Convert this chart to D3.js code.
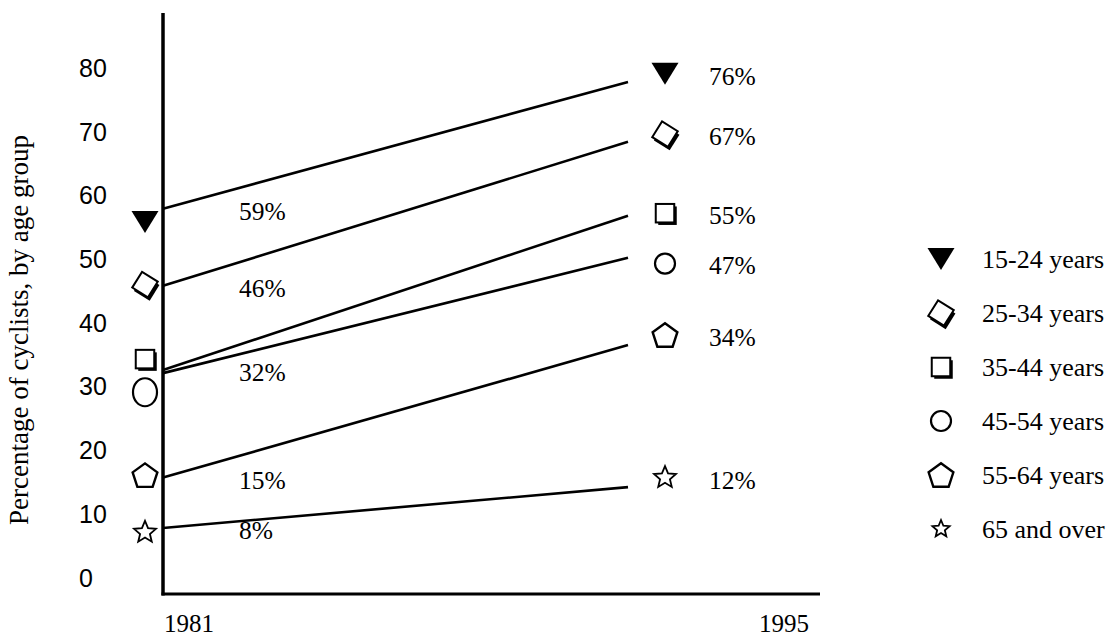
<!DOCTYPE html>
<html>
<head>
<meta charset="utf-8">
<script src="https://cdn.jsdelivr.net/npm/d3@7"></script>
<style>
  body { margin: 0; background: #fff; }
  text { fill: #000; }
</style>
</head>
<body>
<div id="chart"></div>
<script>
/**
 * DATA (in % units of the y axis)
 * */
const ageGroups = ["15-24 years", "25-34 years", "35-44 years", "45-54 years", "55-64 years", "65 and over"];
const shapes = ["triangle", "diamond", "square", "circle", "pentagon", "star"];
const startLabels = ["59%", "46%", "32%", "", "15%", "8%"];
const endLabels = ["76%", "67%", "55%", "47%", "34%", "12%"];
const lineStart = [57.8, 45.7, 32.5, 32.0, 15.6, 7.7];
const lineEnd = [77.7, 68.3, 56.7, 50.1, 36.4, 14.1];
const startMarker = [55.7, 45.9, 34.2, 29.0, 16.0, 7.0];
const endMarker = [79.0, 69.5, 57.1, 49.2, 38.0, 15.6];
const yTicks = [0, 10, 20, 30, 40, 50, 60, 70, 80];
const years = ["1981", "1995"];

/**
 * CONSTANTS
 * */
const width = 1110,
  height = 636,
  axisX = 163,
  axisY = 594,
  lineEndX = 628,
  serif = "'Liberation Serif', 'Times New Roman', serif",
  sans = "'Liberation Sans', Arial, sans-serif";

const svg = d3.select("#chart")
  .append("svg")
  .attr("width", width)
  .attr("height", height);

svg.append("rect").attr("width", width).attr("height", height).attr("fill", "#fff");

// SCALES
const yScale = d3.scaleLinear().domain([0, 80]).range([577, 67.3]);
const xScale = d3.scaleLinear().domain([0, 1]).range([axisX, lineEndX]); // 0 = 1981, 1 = 1995
const yearScale = d3.scalePoint().domain(years).range([188.5, 783.5]);

// AXES
svg.append("line")
  .attr("x1", axisX).attr("x2", axisX)
  .attr("y1", 13).attr("y2", axisY + 1.5)
  .attr("stroke", "#000").attr("stroke-width", 3.5);

svg.append("line")
  .attr("x1", axisX - 1.5).attr("x2", 820)
  .attr("y1", axisY).attr("y2", axisY)
  .attr("stroke", "#000").attr("stroke-width", 3);

const yAxis = d3.axisLeft(yScale).tickValues(yTicks).tickSize(0);
svg.append("g")
  .attr("transform", `translate(${axisX},0)`)
  .call(yAxis)
  .call(g => g.select(".domain").remove())
  .selectAll("text")
  .attr("x", 79 - axisX)
  .attr("dy", "0.36em")
  .attr("text-anchor", "start")
  .style("font-family", sans)
  .style("font-size", "25px");

const xAxis = d3.axisBottom(yearScale).tickSize(0);
svg.append("g")
  .attr("transform", `translate(0,${axisY})`)
  .call(xAxis)
  .call(g => g.select(".domain").remove())
  .selectAll("text")
  .attr("y", 38)
  .attr("dy", 0)
  .style("font-family", serif)
  .style("font-size", "25px");

svg.append("text")
  .attr("transform", `translate(20,${330}) rotate(-90)`)
  .attr("text-anchor", "middle")
  .attr("dy", "0.3em")
  .style("font-family", serif)
  .style("font-size", "27px")
  .text("Percentage of cyclists, by age group");

// LINES
const rows = ageGroups.map((g, i) => ({
  group: g, shape: shapes[i],
  start: lineStart[i], end: lineEnd[i],
  startMark: startMarker[i], endMark: endMarker[i],
  startLabel: startLabels[i], endLabel: endLabels[i]
}));

svg.selectAll(".trend")
  .data(rows)
  .join("line")
  .attr("class", "trend")
  .attr("x1", xScale(0)).attr("y1", d => yScale(d.start))
  .attr("x2", xScale(1)).attr("y2", d => yScale(d.end))
  .attr("stroke", "#000")
  .attr("stroke-width", 2.6);

// MARKERS
function star(R, r) {
  const pts = [];
  for (let k = 0; k < 10; k++) {
    const a = -Math.PI / 2 + k * Math.PI / 5, rr = k % 2 ? r : R;
    pts.push([rr * Math.cos(a), rr * Math.sin(a)]);
  }
  return "M" + pts.map(p => p.join(",")).join("L") + "Z";
}
function pentagon(R) {
  const pts = d3.range(5).map(k => {
    const a = -Math.PI / 2 + k * 2 * Math.PI / 5;
    return [R * Math.cos(a), R * Math.sin(a) + R * 0.1];
  });
  return "M" + pts.map(p => p.join(",")).join("L") + "Z";
}

function drawMarker(g, shape, set) {
  if (shape === "triangle") {
    g.append("path").attr("d", "M-13.5,-11L13.5,-11L0,11Z").attr("fill", "#000");
  } else if (shape === "diamond") {
    const s = 18.5;
    g.append("rect").attr("x", -s / 2 + 1.6).attr("y", -s / 2 + 1.6).attr("width", s).attr("height", s)
      .attr("transform", "translate(1.2,1.2) rotate(32)").attr("fill", "#000");
    g.append("rect").attr("x", -s / 2).attr("y", -s / 2).attr("width", s).attr("height", s)
      .attr("transform", "rotate(32)").attr("fill", "#fff").attr("stroke", "#000").attr("stroke-width", 2);
  } else if (shape === "square") {
    const s = 18.5;
    g.append("rect").attr("x", -s / 2 + 2.5).attr("y", -s / 2 + 2.5).attr("width", s).attr("height", s).attr("fill", "#000");
    g.append("rect").attr("x", -s / 2).attr("y", -s / 2).attr("width", s).attr("height", s)
      .attr("fill", "#fff").attr("stroke", "#000").attr("stroke-width", 2);
  } else if (shape === "circle") {
    g.append("ellipse")
      .attr("rx", set === "start" ? 12 : 10)
      .attr("ry", set === "start" ? 14 : 10)
      .attr("fill", "#fff").attr("stroke", "#000").attr("stroke-width", 2.2);
  } else if (shape === "pentagon") {
    g.append("path").attr("d", pentagon(13)).attr("fill", "#fff")
      .attr("stroke", "#000").attr("stroke-width", 2.4).attr("stroke-linejoin", "miter");
  } else if (shape === "star") {
    const R = set === "legend" ? 9 : 11.5;
    g.append("path").attr("d", star(R, R * 0.45)).attr("fill", "#fff")
      .attr("stroke", "#000").attr("stroke-width", 1.8);
  }
}

svg.selectAll(".start-mark")
  .data(rows)
  .join("g")
  .attr("class", "start-mark")
  .attr("transform", d => `translate(145,${yScale(d.startMark)})`)
  .each(function(d) { drawMarker(d3.select(this), d.shape, "start"); });

svg.selectAll(".end-mark")
  .data(rows)
  .join("g")
  .attr("class", "end-mark")
  .attr("transform", d => `translate(665,${yScale(d.endMark)})`)
  .each(function(d) { drawMarker(d3.select(this), d.shape, "end"); });

// LABELS
svg.selectAll(".start-label")
  .data(rows.filter(d => d.startLabel))
  .join("text")
  .attr("class", "start-label")
  .attr("x", 239)
  .attr("y", d => yScale(d.start) + 3)
  .attr("dy", "0.33em")
  .style("font-family", serif)
  .style("font-size", "25.5px")
  .text(d => d.startLabel);

svg.selectAll(".end-label")
  .data(rows)
  .join("text")
  .attr("class", "end-label")
  .attr("x", 709)
  .attr("y", d => yScale(d.endMark) + 2.5)
  .attr("dy", "0.33em")
  .style("font-family", serif)
  .style("font-size", "25.5px")
  .text(d => d.endLabel);

// LEGEND
const legend = svg.selectAll(".legend")
  .data(rows)
  .join("g")
  .attr("class", "legend")
  .attr("transform", (d, i) => `translate(941,${259 + i * 54})`);

legend.each(function(d) { drawMarker(d3.select(this), d.shape, "legend"); });

legend.append("text")
  .attr("x", 41)
  .attr("dy", "0.33em")
  .style("font-family", serif)
  .style("font-size", "26px")
  .text(d => d.group);
</script>
</body>
</html>
